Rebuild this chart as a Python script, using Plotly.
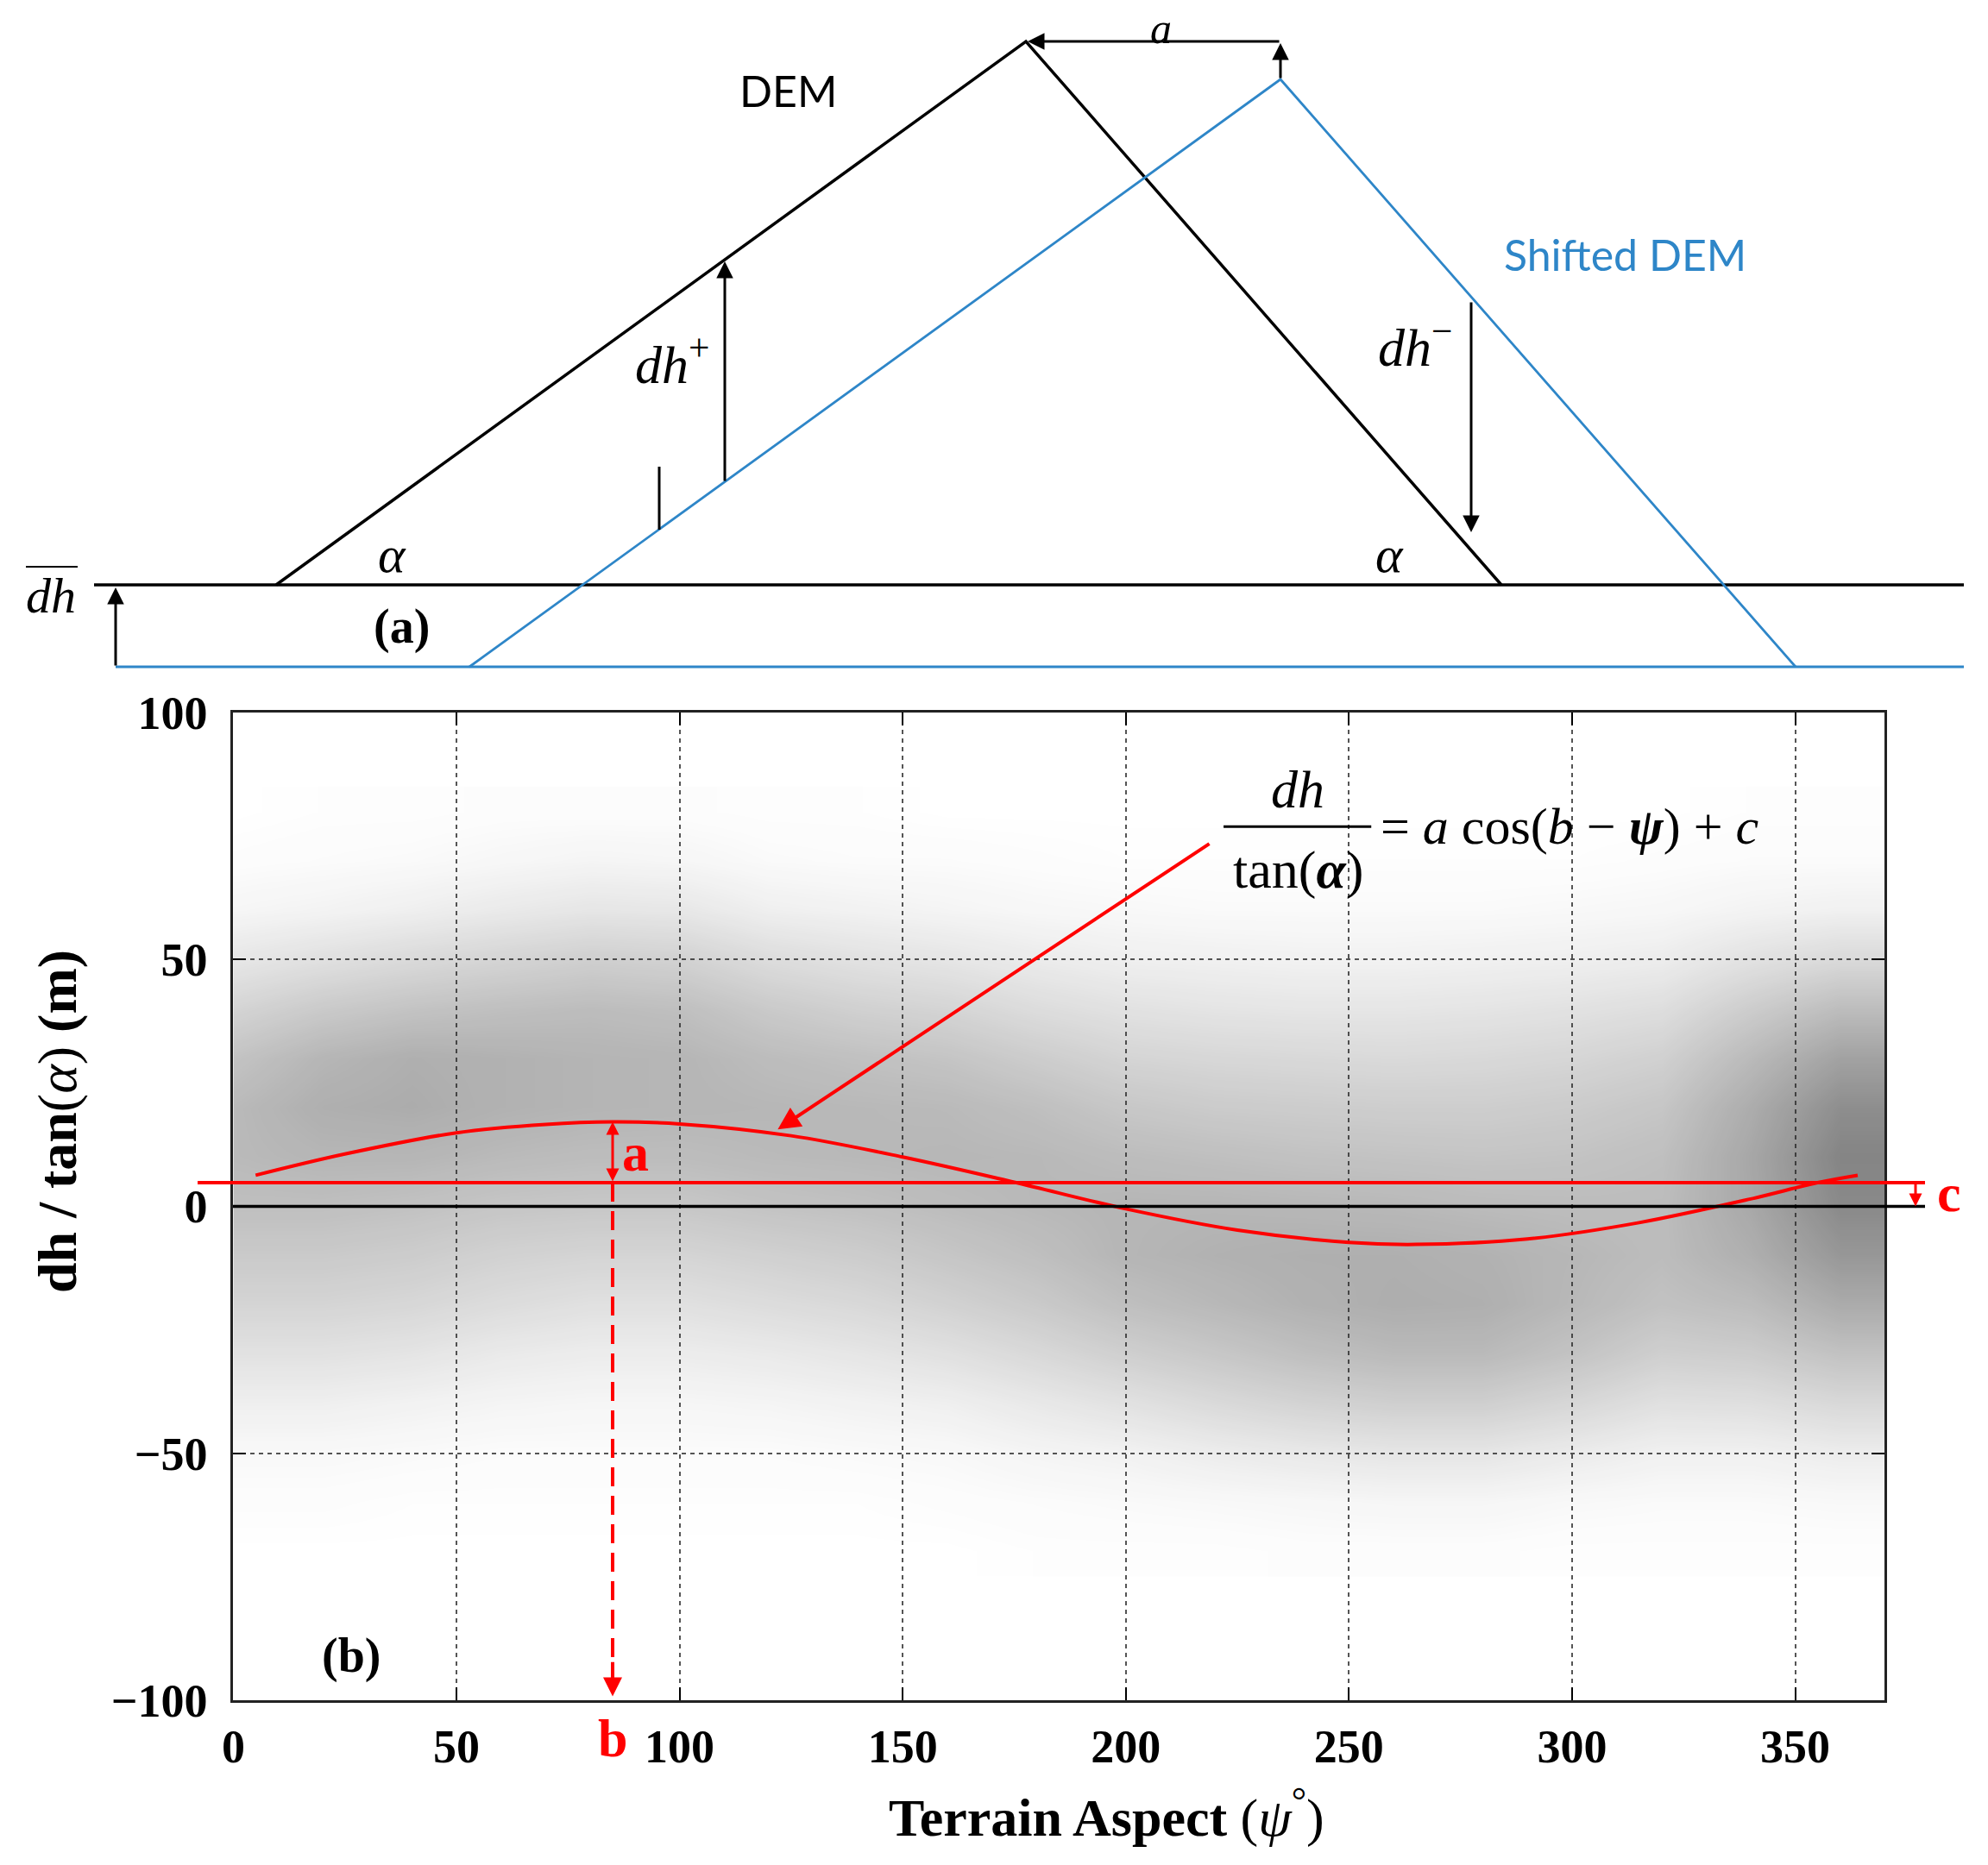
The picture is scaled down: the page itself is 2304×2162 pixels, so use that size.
import numpy as np
import plotly.graph_objects as go

# ======================= panel (b) data =======================
aspect_ticks = [0, 50, 100, 150, 200, 250, 300, 350]
residual_ticks = [-100, -50, 0, 50, 100]

# red fitted cosine
fit_aspect = [5, 25, 50, 70, 85, 100, 125, 150, 175, 200, 225, 250, 265, 290, 315, 340, 355, 364]
fit_value = [6.3, 10.6, 14.9, 16.6, 17.1, 16.7, 14.3, 10.0, 4.9, -0.5, -4.8, -7.3, -7.7, -6.6, -3.3, 1.5, 4.8, 6.3]

fit_a = 12.3   # amplitude
fit_b = 85     # aspect of maximum (deg)
fit_c = 4.8    # offset

# point cloud density (visual estimate, 0..10), one list per aspect column
cloud_aspect = [0, 20, 40, 60, 80, 100, 120, 140, 160, 180, 200, 220, 240, 260, 280, 300, 320, 340, 360]
cloud_residual = [-70, -60, -50, -40, -30, -20, -10, 0, 10, 20, 30, 40, 50, 60, 70, 80]
cloud_density = [
    [0, 0.2, 0.5, 1.2, 2.2, 3.2, 4.0, 4.8, 5.2, 5.2, 4.5, 3.2, 1.8, 0.7, 0.2, 0],
    [0, 0.2, 0.5, 1.2, 2.2, 3.2, 4.0, 4.8, 5.5, 6.0, 5.5, 4.0, 2.3, 0.9, 0.3, 0.1],
    [0, 0.1, 0.4, 1.0, 2.0, 3.0, 3.8, 4.6, 5.5, 6.2, 6.0, 4.5, 2.8, 1.2, 0.4, 0.1],
    [0, 0.1, 0.3, 0.8, 1.6, 2.6, 3.4, 4.3, 5.2, 5.8, 5.8, 4.8, 3.2, 1.6, 0.6, 0.2],
    [0, 0.1, 0.3, 0.7, 1.4, 2.3, 3.2, 4.2, 5.0, 5.6, 5.6, 5.0, 3.6, 1.9, 0.8, 0.2],
    [0, 0.1, 0.3, 0.7, 1.4, 2.3, 3.2, 4.2, 5.0, 5.5, 5.5, 4.8, 3.4, 1.8, 0.7, 0.2],
    [0, 0.1, 0.3, 0.8, 1.6, 2.6, 3.5, 4.5, 5.2, 5.4, 5.0, 4.0, 2.6, 1.2, 0.4, 0.1],
    [0, 0.1, 0.4, 1.0, 1.9, 2.9, 3.8, 4.7, 5.3, 5.3, 4.7, 3.5, 2.2, 1.0, 0.3, 0.1],
    [0, 0.2, 0.5, 1.2, 2.3, 3.4, 4.3, 5.0, 5.4, 5.2, 4.4, 3.2, 1.9, 0.8, 0.3, 0],
    [0.1, 0.3, 0.8, 1.7, 2.9, 4.0, 4.8, 5.3, 5.3, 4.8, 3.8, 2.6, 1.5, 0.6, 0.2, 0],
    [0.1, 0.4, 1.0, 2.2, 3.6, 4.8, 5.5, 5.5, 5.0, 4.2, 3.2, 2.2, 1.2, 0.5, 0.1, 0],
    [0.1, 0.5, 1.4, 2.8, 4.2, 5.3, 5.8, 5.5, 4.8, 3.9, 3.0, 2.0, 1.1, 0.4, 0.1, 0],
    [0.2, 0.6, 1.7, 3.3, 4.8, 5.8, 6.0, 5.4, 4.6, 3.8, 2.9, 1.9, 1.0, 0.4, 0.1, 0],
    [0.2, 0.7, 1.9, 3.6, 5.2, 6.1, 6.0, 5.3, 4.5, 3.7, 2.8, 1.9, 1.0, 0.4, 0.1, 0],
    [0.2, 0.7, 1.9, 3.6, 5.2, 6.0, 5.8, 5.1, 4.4, 3.7, 2.9, 2.0, 1.1, 0.4, 0.1, 0],
    [0.1, 0.5, 1.5, 3.0, 4.5, 5.3, 5.4, 5.0, 4.5, 3.9, 3.1, 2.2, 1.2, 0.5, 0.1, 0],
    [0.1, 0.4, 1.1, 2.3, 3.6, 4.6, 5.0, 5.0, 4.8, 4.3, 3.5, 2.5, 1.4, 0.6, 0.2, 0],
    [0.1, 0.4, 1.1, 2.4, 3.8, 5.0, 6.0, 6.5, 6.6, 6.2, 5.2, 3.8, 2.2, 0.9, 0.3, 0.1],
    [0.1, 0.5, 1.4, 2.9, 4.6, 6.3, 7.8, 8.8, 9.2, 8.5, 7.0, 5.0, 2.8, 1.1, 0.3, 0.1],
]

# ======================= panel (a) data (schematic, page pixels) =======================
dem_x = [320, 1189, 1740]
dem_y = [678, 48, 678]
shifted_x = [544, 1484, 2081]
shifted_y = [773, 92, 773]
dem_base_x = [109, 2276]
dem_base_y = [678, 678]
shifted_base_x = [134, 2276]
shifted_base_y = [773, 773]
tick_x = [764, 764]
tick_y = [614, 541]
overbar_x = [30, 90]
overbar_y = [657, 657]

# ======================= styling =======================
W, H = 2304, 2162
SERIF = "Liberation Serif, Times New Roman, serif"
SANS = "Lato, Carlito, Open Sans, sans-serif"
RED = "#ff0000"
BLUE = "#2e86c8"

fig = go.Figure()

# ---- point cloud as density ----
fig.add_trace(go.Heatmap(
    x=cloud_aspect, y=cloud_residual, z=np.array(cloud_density).T,
    zmin=0, zmax=10, zsmooth="best", showscale=False, hoverinfo="skip",
    colorscale=[[0, "rgba(40,40,40,0)"], [1, "rgba(40,40,40,0.62)"]],
    xaxis="x", yaxis="y",
))

# ---- fitted curve ----
fig.add_trace(go.Scatter(
    x=fit_aspect, y=fit_value, mode="lines", line=dict(color=RED, width=4, shape="spline"),
    showlegend=False, hoverinfo="skip", xaxis="x", yaxis="y",
))

# ---- dashed b marker ----
fig.add_trace(go.Scatter(
    x=[fit_b, fit_b], y=[fit_c, -96], mode="lines",
    line=dict(color=RED, width=4, dash="22px,11px"),
    showlegend=False, hoverinfo="skip", xaxis="x", yaxis="y",
))

# ---- panel (a) lines ----
def line(x, y, color, width):
    fig.add_trace(go.Scatter(x=x, y=y, mode="lines", line=dict(color=color, width=width),
                             showlegend=False, hoverinfo="skip", xaxis="x2", yaxis="y2"))

line(dem_base_x, dem_base_y, "black", 3.5)
line(shifted_base_x, shifted_base_y, BLUE, 3)
line(dem_x, dem_y, "black", 3.5)
line(shifted_x, shifted_y, BLUE, 2.8)
line(tick_x, tick_y, "black", 3)
line(overbar_x, overbar_y, "black", 2)

ann = []

def arrow2(x, y, ax, ay):
    ann.append(dict(x=x, y=y, ax=ax, ay=ay, xref="x2", yref="y2", axref="x2", ayref="y2",
                    text="", showarrow=True, arrowhead=2, arrowsize=1.3, arrowwidth=3,
                    arrowcolor="black", standoff=0, startstandoff=0))

def text2(x, y, t, size, color="black", family=SERIF):
    ann.append(dict(x=x, y=y, xref="x2", yref="y2", text=t, showarrow=False,
                    xanchor="center", yanchor="middle", borderpad=0,
                    font=dict(family=family, size=size, color=color)))

arrow2(134, 681, 134, 773)
arrow2(1191, 48, 1484, 48)
arrow2(1484, 50, 1484, 92)
arrow2(840, 303, 840, 559)
arrow2(1705, 617, 1705, 349)

text2(913, 105, "DEM", 50, family=SANS)
text2(1883, 295, "Shifted DEM", 50, color=BLUE, family=SANS)
text2(1345, 33, "<i>a</i>", 50)
text2(779, 418, "<i>dh</i><sup>+</sup>", 62)
text2(1640, 398, "<i>dh</i><sup>−</sup>", 62)
text2(454, 643, "<i>α</i>", 60)
text2(1610, 643, "<i>α</i>", 60)
text2(59, 690, "<i>dh</i>", 58)
text2(465, 726, "<b>(a)</b>", 56)

# ---- panel (b) annotations ----
ann += [
    dict(x=238.5, y=84.4, xref="x", yref="y", text="<i>dh</i>", showarrow=False,
         font=dict(family=SERIF, size=62, color="black")),
    dict(x=238.7, y=68.2, xref="x", yref="y", text="tan(<i><b>α</b></i>)", showarrow=False,
         font=dict(family=SERIF, size=62, color="black")),
    dict(x=256.7, y=76.9, xref="x", yref="y", xanchor="left",
         text="= <i>a</i> cos(<i>b</i> − <b><i>ψ</i></b>) + <i>c</i>", showarrow=False,
         font=dict(family=SERIF, size=60, color="black")),
    # arrow from formula to curve
    dict(x=122, y=15.6, ax=219, ay=73.6, xref="x", yref="y", axref="x", ayref="y",
         text="", showarrow=True, arrowhead=2, arrowsize=1.3, arrowwidth=4, arrowcolor=RED,
         standoff=0),
    # amplitude a
    dict(x=fit_b, y=fit_c + fit_a, ax=fit_b, ay=fit_c, xref="x", yref="y", axref="x", ayref="y",
         text="", showarrow=True, arrowhead=2, startarrowhead=2, arrowside="end+start",
         arrowsize=1, startarrowsize=1, arrowwidth=3, arrowcolor=RED, standoff=0, startstandoff=0),
    dict(x=fit_b + 1.8, y=fit_c + fit_a / 2, xref="x", yref="y", xanchor="left",
         text="<b>a</b>", showarrow=False, font=dict(family=SERIF, size=62, color=RED)),
    # b arrowhead
    dict(x=fit_b, y=-99.2, ax=fit_b, ay=-92, xref="x", yref="y", axref="x", ayref="y",
         text="", showarrow=True, arrowhead=2, arrowsize=1.1, arrowwidth=4, arrowcolor=RED,
         standoff=0),
    dict(x=fit_b, y=1 - 2015 / H, xref="x", yref="paper", xanchor="center", yanchor="middle",
         text="<b>b</b>", showarrow=False, font=dict(family=SERIF, size=62, color=RED)),
    # c
    dict(x=2220 / W, y=0, ax=0, ay=fit_c, xref="paper", yref="y", axref="pixel", ayref="y",
         text="", showarrow=True, arrowhead=2, arrowsize=1, arrowwidth=3, arrowcolor=RED,
         standoff=0),
    dict(x=2259 / W, y=fit_c * 0.55, xref="paper", yref="y", xanchor="center", yanchor="middle",
         text="<b>c</b>", showarrow=False, font=dict(family=SERIF, size=62, color=RED)),
    dict(x=26.4, y=-91, xref="x", yref="y", text="<b>(b)</b>", showarrow=False,
         font=dict(family=SERIF, size=56, color="black")),
    # axis titles
    dict(x=66 / W, y=1 - 1300 / H, xref="paper", yref="paper", textangle=-90,
         xanchor="center", yanchor="middle",
         text="<b>dh / tan</b>(<i>α</i>)<b> (m)</b>", showarrow=False,
         font=dict(family=SERIF, size=64, color="black")),
    dict(x=1028 / W, y=1 - 2102 / H, xref="paper", yref="paper", xanchor="left", yanchor="middle",
         text="<b>Terrain Aspect</b> (<i>ψ</i><sup>°</sup>)", showarrow=False,
         font=dict(family=SERIF, size=62, color="black")),
]

shapes = [
    # fraction bar
    dict(type="line", xref="x", yref="y", x0=221.9, x1=255.0, y0=76.9, y1=76.9,
         line=dict(color="black", width=3)),
    # zero line and offset line extending past the frame
    dict(type="line", xref="paper", yref="y", x0=270 / W, x1=2231 / W, y0=0, y1=0,
         line=dict(color="black", width=3.5)),
    dict(type="line", xref="paper", yref="y", x0=229 / W, x1=2231 / W, y0=fit_c, y1=fit_c,
         line=dict(color=RED, width=4)),
]

axis_common = dict(
    ticks="inside", ticklen=15, tickwidth=2, tickcolor="black",
    showline=True, linewidth=3, linecolor="#222", mirror="ticks",
    showgrid=True, gridcolor="#555", gridwidth=2, griddash="5px,5px",
    zeroline=False, automargin=False,
    tickfont=dict(family=SERIF, size=54, color="black", weight="bold"),
)

fig.update_layout(
    width=W, height=H, margin=dict(l=0, r=0, t=0, b=0, pad=0, autoexpand=False),
    paper_bgcolor="white", plot_bgcolor="white", showlegend=False,
    xaxis=dict(domain=[270.4 / W, 2184 / W], range=[0, 370], tickvals=aspect_ticks,
               anchor="y", ticklabelstandoff=4, **axis_common),
    yaxis=dict(domain=[1 - 1971 / H, 1 - 826 / H], range=[-100, 100], tickvals=residual_ticks,
               anchor="x", ticklabelstandoff=16, **axis_common),
    xaxis2=dict(domain=[0, 1], range=[0, W], visible=False, anchor="y2", automargin=False),
    yaxis2=dict(domain=[1 - 800 / H, 1], range=[800, 0], visible=False, anchor="x2", automargin=False),
    annotations=ann, shapes=shapes,
)

fig.write_html(
    "out.html",
    config={"responsive": False, "displayModeBar": False},
    post_script="document.body.style.margin='0';document.documentElement.style.overflow='hidden';document.body.style.overflow='hidden';",
)
